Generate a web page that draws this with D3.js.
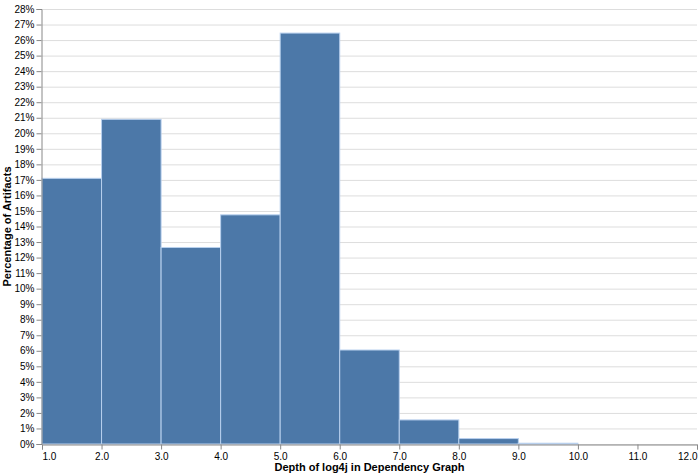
<!DOCTYPE html>
<html>
<head>
<meta charset="utf-8">
<script src="https://cdn.jsdelivr.net/npm/d3@7"></script>
<style>
  html, body { margin: 0; padding: 0; background: #fff; }
  svg { display: block; font-family: "Liberation Sans", Arial, Helvetica, sans-serif; }
</style>
</head>
<body>
<svg id="chart" width="700" height="475"></svg>
<script>
// Data
const binStarts = [1, 2, 3, 4, 5, 6, 7, 8, 9];
const binEnds   = [2, 3, 4, 5, 6, 7, 8, 9, 10];
const percentages = [17.1, 20.9, 12.65, 14.75, 26.45, 6.05, 1.55, 0.35, 0.05];
const xTicks = [1, 2, 3, 4, 5, 6, 7, 8, 9, 10, 11, 12];
const yTicks = d3.range(0, 29, 1);
const xTitle = "Depth of log4j in Dependency Graph";
const yTitle = "Percentage of Artifacts";

const svg = d3.select("#chart");
const margin = { left: 42, right: 3, top: 9, bottom: 31 };
const W = 700, H = 475;
const x = d3.scaleLinear().domain([1, 12]).range([margin.left, W - margin.right]);
const y = d3.scaleLinear().domain([0, 28]).range([H - margin.bottom, margin.top]);

// gridlines
svg.append("g").selectAll("line").data(yTicks).join("line")
  .attr("x1", x(1)).attr("x2", x(12))
  .attr("y1", d => y(d) + 0.5).attr("y2", d => y(d) + 0.5)
  .attr("stroke", "#ddd").attr("stroke-width", 1);

// bars
svg.append("g").selectAll("rect").data(percentages).join("rect")
  .attr("x", (d, i) => x(binStarts[i]))
  .attr("width", (d, i) => x(binEnds[i]) - x(binStarts[i]))
  .attr("y", d => y(d))
  .attr("height", d => y(0) - y(d))
  .attr("fill", "#4c78a8")
  .attr("stroke", "#b8d0ee")
  .attr("stroke-width", 1);

// x axis
const xAxis = d3.axisBottom(x).tickValues(xTicks).tickFormat(d3.format(".1f")).tickSize(5).tickPadding(3);
const gx = svg.append("g").attr("transform", `translate(0,${y(0) + 0.5})`).call(xAxis);
gx.select(".domain").attr("stroke", "#888");
gx.selectAll(".tick line").attr("stroke", "#888");
gx.selectAll(".tick text").attr("fill", "#000").attr("font-size", 10)
  .attr("font-family", "Liberation Sans, Arial, sans-serif")
  .attr("text-anchor", (d, i) => i === 0 ? "start" : (i === xTicks.length - 1 ? "end" : "middle"));

// y axis
const yAxis = d3.axisLeft(y).tickValues(yTicks).tickFormat(d => d + "%").tickSize(5).tickPadding(2);
const gy = svg.append("g").attr("transform", `translate(${margin.left - 0.5},0)`).call(yAxis);
gy.select(".domain").attr("stroke", "#888");
gy.selectAll(".tick line").attr("stroke", "#888");
gy.selectAll(".tick text").attr("fill", "#000").attr("font-size", 10)
  .attr("font-family", "Liberation Sans, Arial, sans-serif");

// titles
svg.append("text")
  .attr("x", (x(1) + x(12)) / 2).attr("y", 471)
  .attr("text-anchor", "middle").attr("font-size", 11).attr("font-weight", "bold")
  .attr("fill", "#000").text(xTitle);
svg.append("text")
  .attr("transform", `translate(11,${(y(0) + y(28)) / 2}) rotate(-90)`)
  .attr("text-anchor", "middle").attr("font-size", 11).attr("font-weight", "bold")
  .attr("fill", "#000").text(yTitle);
</script>
</body>
</html>
